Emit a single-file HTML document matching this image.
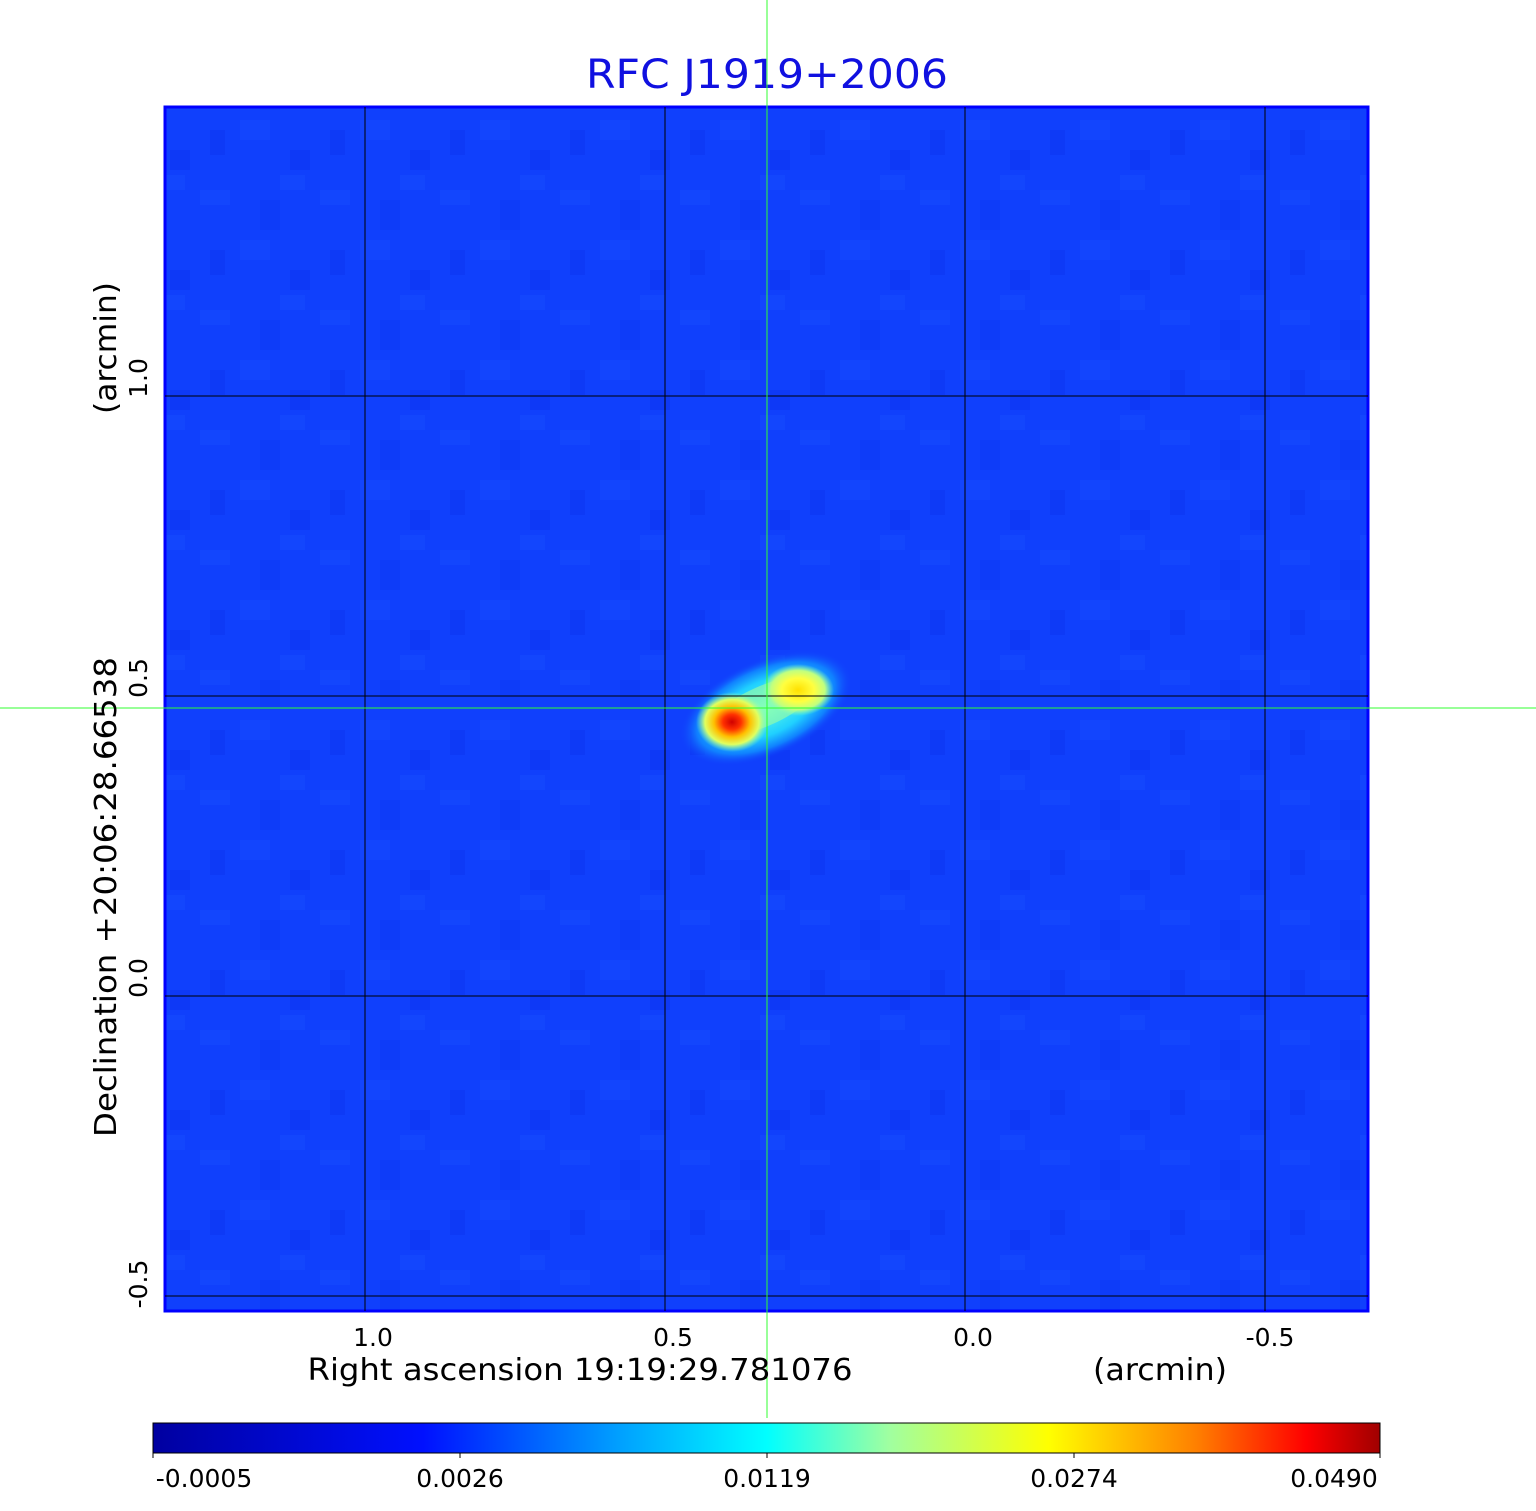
<!DOCTYPE html>
<html><head><meta charset="utf-8"><style>html,body{margin:0;padding:0;background:#fff}svg{display:block}</style></head>
<body>
<svg width="1536" height="1511" viewBox="0 0 1536 1511" xmlns="http://www.w3.org/2000/svg" font-family="DejaVu Sans, Liberation Sans, sans-serif">
<defs>
<pattern id="noise" width="120" height="120" patternUnits="userSpaceOnUse">
<rect width="120" height="120" fill="#1040fc"/>
<rect x="0" y="0" width="30" height="20" fill="#1a4cff" opacity=".35"/>
<rect x="50" y="30" width="20" height="20" fill="#0a30ee" opacity=".4"/>
<rect x="80" y="70" width="30" height="15" fill="#1a50ff" opacity=".35"/>
<rect x="20" y="80" width="20" height="30" fill="#0c34f0" opacity=".35"/>
<rect x="90" y="10" width="15" height="25" fill="#0a2ce8" opacity=".3"/>
<rect x="40" y="55" width="25" height="15" fill="#1c52ff" opacity=".3"/>
</pattern>
<linearGradient id="cb" x1="0" x2="1" y1="0" y2="0">
<stop offset="0" stop-color="#0000a0"/>
<stop offset="0.22" stop-color="#0010ff"/>
<stop offset="0.38" stop-color="#00a0ff"/>
<stop offset="0.5" stop-color="#00ffff"/>
<stop offset="0.6" stop-color="#a0ffa0"/>
<stop offset="0.73" stop-color="#ffff00"/>
<stop offset="0.85" stop-color="#ff8000"/>
<stop offset="0.94" stop-color="#ff0000"/>
<stop offset="1" stop-color="#a00000"/>
</linearGradient>
<radialGradient id="halo">
<stop offset="0" stop-color="#60ffe0"/>
<stop offset="0.55" stop-color="#20d0ff"/>
<stop offset="0.8" stop-color="#1080ff"/>
<stop offset="1" stop-color="#1040fc" stop-opacity="0"/>
</radialGradient>
<radialGradient id="b1">
<stop offset="0" stop-color="#d00000"/>
<stop offset="0.25" stop-color="#ff3000"/>
<stop offset="0.5" stop-color="#ffc000"/>
<stop offset="0.75" stop-color="#e0ff60"/>
<stop offset="1" stop-color="#80ffc0" stop-opacity="0"/>
</radialGradient>
<radialGradient id="b2">
<stop offset="0" stop-color="#ffe000"/>
<stop offset="0.45" stop-color="#ffff40"/>
<stop offset="0.75" stop-color="#c0ff80"/>
<stop offset="1" stop-color="#80ffc0" stop-opacity="0"/>
</radialGradient>
</defs>
<text x="767" y="88" font-size="40" fill="#1010e0" text-anchor="middle" textLength="362" lengthAdjust="spacingAndGlyphs">RFC J1919+2006</text>
<rect x="165" y="107" width="1203" height="1204" fill="url(#noise)"/>
<ellipse cx="766" cy="708" rx="92" ry="48" transform="rotate(-24 766 708)" fill="url(#halo)"/>
<ellipse cx="764" cy="706" rx="58" ry="20" transform="rotate(-24 764 706)" fill="#a0ffa0" opacity=".6"/>
<ellipse cx="798" cy="690" rx="36" ry="26" fill="url(#b2)"/>
<ellipse cx="732" cy="722" rx="36" ry="30" fill="url(#b1)"/>
<rect x="165" y="107" width="1203" height="1204" fill="none" stroke="#0000ff" stroke-width="3"/>
<g stroke="#000" stroke-width="1">
<line x1="365" y1="107" x2="365" y2="1311"/><line x1="665" y1="107" x2="665" y2="1311"/>
<line x1="965" y1="107" x2="965" y2="1311"/><line x1="1265" y1="107" x2="1265" y2="1311"/>
<line x1="165" y1="396" x2="1368" y2="396"/><line x1="165" y1="696" x2="1368" y2="696"/>
<line x1="165" y1="996" x2="1368" y2="996"/><line x1="165" y1="1296" x2="1368" y2="1296"/>
</g>
<g stroke="#30ff30" stroke-width="1"><line x1="767" y1="0" x2="767" y2="1418"/><line x1="0" y1="708" x2="1536" y2="708"/></g>
<g font-size="25" fill="#000" text-anchor="middle">
<text x="373" y="1346">1.0</text><text x="673" y="1346">0.5</text><text x="973" y="1346">0.0</text><text x="1270" y="1346">-0.5</text>
<text x="580" y="1380" font-size="30" textLength="545" lengthAdjust="spacingAndGlyphs">Right ascension  19:19:29.781076</text>
<text x="1160" y="1380" font-size="30" textLength="134" lengthAdjust="spacingAndGlyphs">(arcmin)</text>
<text transform="translate(147 378) rotate(-90)">1.0</text>
<text transform="translate(147 678) rotate(-90)">0.5</text>
<text transform="translate(147 978) rotate(-90)">0.0</text>
<text transform="translate(147 1284) rotate(-90)">-0.5</text>
<text transform="translate(116 897) rotate(-90)" font-size="30" textLength="480" lengthAdjust="spacingAndGlyphs">Declination  +20:06:28.66538</text>
<text transform="translate(116 348) rotate(-90)" font-size="30" textLength="132" lengthAdjust="spacingAndGlyphs">(arcmin)</text>
</g>
<rect x="153" y="1423" width="1227" height="30" fill="url(#cb)" stroke="#000" stroke-width="1"/>
<g stroke="#000"><line x1="153" y1="1453" x2="153" y2="1458"/><line x1="460" y1="1453" x2="460" y2="1458"/><line x1="767" y1="1453" x2="767" y2="1458"/><line x1="1074" y1="1453" x2="1074" y2="1458"/><line x1="1380" y1="1453" x2="1380" y2="1458"/></g>
<g font-size="25" fill="#000" text-anchor="middle">
<text x="204" y="1487">-0.0005</text><text x="460" y="1487">0.0026</text><text x="767" y="1487">0.0119</text><text x="1074" y="1487">0.0274</text><text x="1334" y="1487">0.0490</text>
</g>
</svg>
</body></html>
